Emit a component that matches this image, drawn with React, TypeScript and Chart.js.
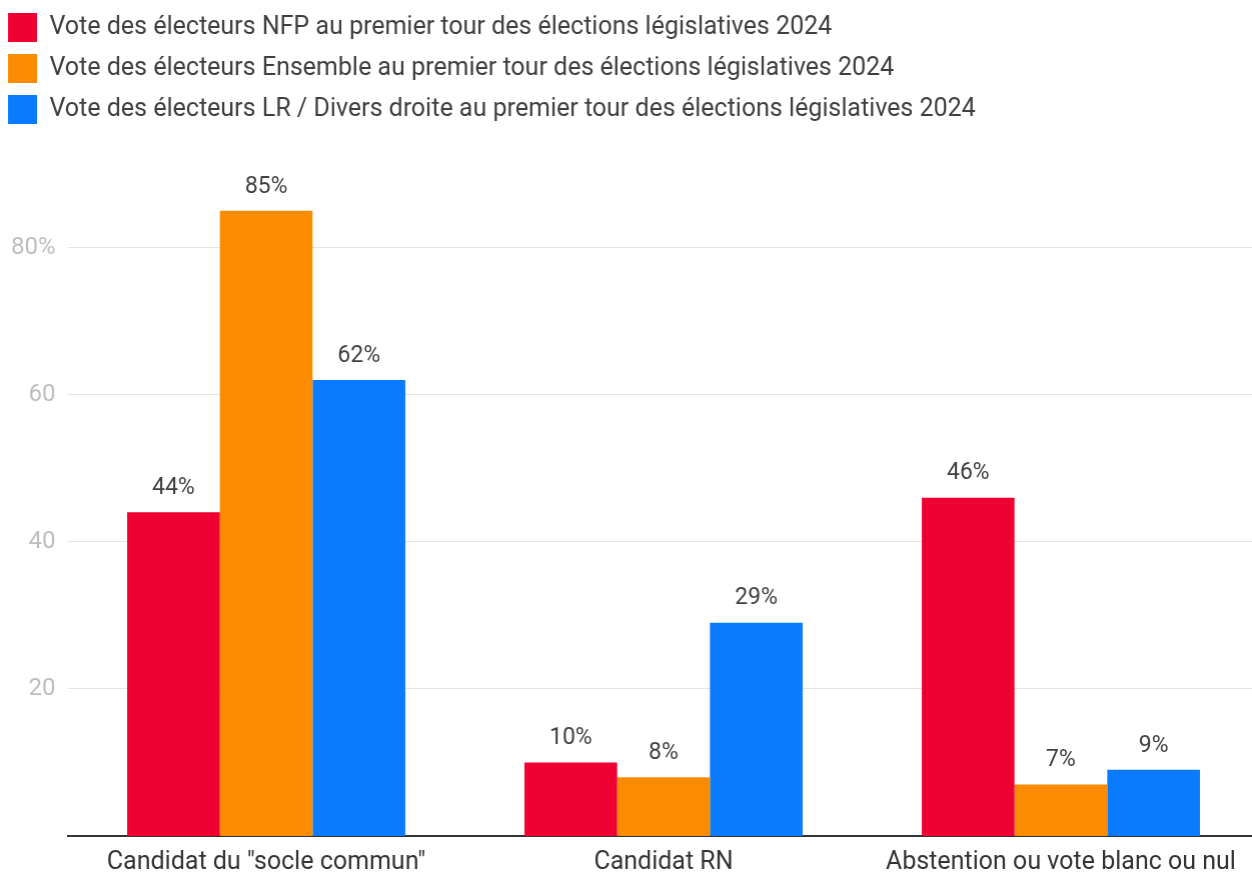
import React, { useEffect, useRef } from "react";
import { Chart, registerables } from "chart.js";

Chart.register(...registerables);

const categories = ['Candidat du "socle commun"', "Candidat RN", "Abstention ou vote blanc ou nul"];
const seriesNames = [
  "Vote des électeurs NFP au premier tour des élections législatives 2024",
  "Vote des électeurs Ensemble au premier tour des élections législatives 2024",
  "Vote des électeurs LR / Divers droite au premier tour des élections législatives 2024",
];
const nfpValues = [44, 10, 46];
const ensembleValues = [85, 8, 7];
const lrValues = [62, 29, 9];
const yTickValues = [20, 40, 60, 80];
const yTickLabels = ["20", "40", "60", "80%"];
const colors = ["#EE0033", "#FB8C00", "#0A7BFF"];

const FONT = "Roboto, 'Noto Sans', sans-serif";

const valueLabels = {
  id: "valueLabels",
  afterDatasetsDraw(chart: any) {
    const ctx = chart.ctx;
    ctx.save();
    ctx.font = `23px ${FONT}`;
    ctx.fillStyle = "#3f3f3f";
    ctx.textAlign = "center";
    ctx.textBaseline = "middle";
    chart.data.datasets.forEach((ds: any, di: number) => {
      const meta = chart.getDatasetMeta(di);
      meta.data.forEach((bar: any, i: number) => {
        ctx.fillText(`${ds.data[i]}%`, bar.x, bar.y - 24);
      });
    });
    ctx.restore();
  },
};

const legendSpacer = {
  id: "legendSpacer",
  afterInit(chart: any) {
    const legend = chart.legend;
    if (!legend) return;
    const orig = legend.fit;
    legend.fit = function () {
      orig.call(this);
      this.height += 40;
    };
  },
};

export default function App() {
  const ref = useRef<HTMLCanvasElement>(null);
  useEffect(() => {
    if (!ref.current) return;
    const chart = new Chart(ref.current, {
      type: "bar",
      data: {
        labels: categories,
        datasets: [
          { label: seriesNames[0], data: nfpValues, backgroundColor: colors[0] },
          { label: seriesNames[1], data: ensembleValues, backgroundColor: colors[1] },
          { label: seriesNames[2], data: lrValues, backgroundColor: colors[2] },
        ],
      },
      options: {
        animation: false,
        responsive: true,
        maintainAspectRatio: false,
        datasets: { bar: { categoryPercentage: 0.7, barPercentage: 1 } },
        layout: { padding: { left: -4, right: 0, top: 1, bottom: 0 } },
        plugins: {
          tooltip: { enabled: false },
          legend: {
            position: "top",
            align: "start",
            labels: {
              boxWidth: 29,
              boxHeight: 29,
              padding: 12,
              color: "#3f3f3f",
              font: { family: FONT, size: 25 },
            },
          },
        },
        scales: {
          x: {
            grid: { display: false },
            border: { display: true, color: "#333333", width: 2 },
            ticks: { color: "#333333", padding: 4, font: { family: FONT, size: 25 } },
            afterFit: (s: any) => {
              s.height = 36;
            },
          },
          y: {
            min: 0,
            max: 90,
            border: { display: false },
            grid: { color: "#e4e4e4", lineWidth: 1, drawTicks: false },
            afterBuildTicks: (s: any) => {
              s.ticks = yTickValues.map((v) => ({ value: v }));
            },
            ticks: {
              color: "#bdbdbd",
              padding: 12,
              font: { family: FONT, size: 24 },
              callback: (_v: any, i: number) => yTickLabels[i],
            },
            afterFit: (s: any) => {
              s.width = 71.5;
            },
          },
        },
      },
      plugins: [valueLabels, legendSpacer],
    });
    return () => chart.destroy();
  }, []);
  return (
    <div style={{ position: "fixed", left: 0, top: 0, width: 1252, height: 872, overflow: "hidden", background: "#fff" }}>
      <div style={{ position: "absolute", left: 0, top: 0, width: 1258.5, height: 872 }}>
        <canvas ref={ref} />
      </div>
    </div>
  );
}
